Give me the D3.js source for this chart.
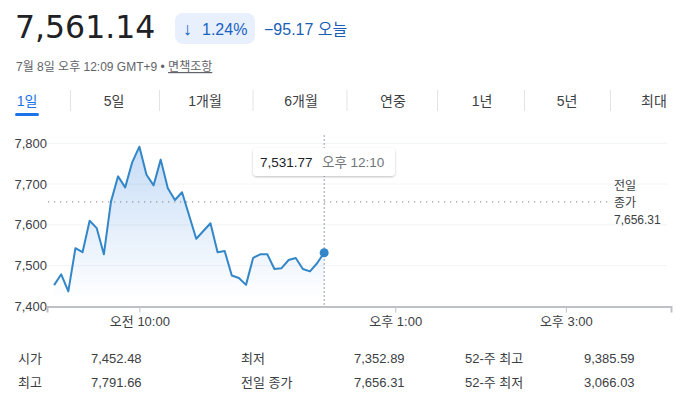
<!DOCTYPE html>
<html>
<head>
<meta charset="utf-8">
<script src="https://cdn.jsdelivr.net/npm/d3@7"></script>
<style>
  body { margin: 0; background: #fff; }
  svg text { font-family: "Liberation Sans", "Noto Sans CJK KR", sans-serif; }
</style>
</head>
<body>
<div id="chart"></div>
<script>
// minutes since midnight, 5 min bars (straight runs left out)
var times = [540, 545, 550, 555, 560, 565, 570, 575, 580, 585, 590, 595, 600, 605, 610, 615, 620, 625, 630,
  640, 650, 655, 660, 665, 670, 675, 680, 685, 690, 695, 700, 705, 710, 715, 720, 725, 730];
var prices = [7452.48, 7479, 7437, 7543, 7533, 7610, 7592, 7528, 7657, 7719, 7692, 7754, 7791.66, 7723, 7697, 7760, 7690, 7661, 7680,
  7566, 7604, 7533, 7536, 7476, 7470, 7453, 7519, 7528, 7528, 7492, 7494, 7514, 7519, 7492, 7486, 7506, 7531.77];
var yTicks = [7400, 7500, 7600, 7700, 7800];
var xTicks = [600, 780, 900];
var xTickLabels = ["오전 10:00", "오후 1:00", "오후 3:00"];
var prevClose = 7656.31;
var tabs = ["1일", "5일", "1개월", "6개월", "연중", "1년", "5년", "최대"];
var statLabels = [["시가", "최고"], ["최저", "전일 종가"], ["52-주 최고", "52-주 최저"]];
var statValues = [["7,452.48", "7,791.66"], ["7,352.89", "7,656.31"], ["9,385.59", "3,066.03"]];

var width = 684, height = 417;
var blue = "#3386c8";

var svg = d3.select("#chart").append("svg")
  .attr("width", width)
  .attr("height", height);

var defs = svg.append("defs");
var grad = defs.append("linearGradient")
  .attr("id", "areaFill")
  .attr("gradientUnits", "userSpaceOnUse")
  .attr("x1", 0).attr("x2", 0).attr("y1", 143).attr("y2", 300);
grad.append("stop").attr("offset", "0%").attr("stop-color", "#4a90e2").attr("stop-opacity", 0.32);
grad.append("stop").attr("offset", "100%").attr("stop-color", "#4a90e2").attr("stop-opacity", 0);

var shadow = defs.append("filter").attr("id", "shadow")
  .attr("x", "-20%").attr("y", "-40%").attr("width", "140%").attr("height", "180%");
shadow.append("feDropShadow")
  .attr("dx", 0).attr("dy", 1).attr("stdDeviation", 1.2)
  .attr("flood-color", "#000").attr("flood-opacity", 0.25);

// header
svg.append("text")
  .attr("x", 15).attr("y", 38)
  .style("font-family", "'DejaVu Sans', sans-serif")
  .style("font-size", "31.5px")
  .attr("fill", "#202124")
  .text("7,561.14");

svg.append("rect")
  .attr("x", 175).attr("y", 13).attr("width", 80).attr("height", 31).attr("rx", 8)
  .attr("fill", "#e8f0fe");
svg.append("text")
  .attr("x", 183).attr("y", 35)
  .style("font-size", "18px")
  .attr("fill", "#1a62c2")
  .text("↓");
svg.append("text")
  .attr("x", 202).attr("y", 35)
  .style("font-size", "16px")
  .attr("fill", "#1a62c2")
  .text("1.24%");
svg.append("text")
  .attr("x", 264).attr("y", 35)
  .style("font-size", "16px")
  .attr("fill", "#1a5fb4")
  .text("−95.17 오늘");

var sub = svg.append("text")
  .attr("x", 16).attr("y", 71)
  .style("font-size", "12px")
  .attr("fill", "#5f6368");
sub.append("tspan").text("7월 8일 오후 12:09 GMT+9 • ");
sub.append("tspan").attr("text-decoration", "underline").text("면책조항");

// range tabs
var tabX = [27, 114, 205, 301, 393, 482, 567, 654];
svg.selectAll(".tab")
  .data(tabs)
  .enter()
  .append("text")
  .attr("class", "tab")
  .attr("x", function(d, i) { return tabX[i] })
  .attr("y", 106)
  .attr("text-anchor", "middle")
  .style("font-size", "14px")
  .attr("fill", function(d, i) { return i == 0 ? "#1a73e8" : "#3c4043" })
  .text(function(d) { return d });

svg.selectAll(".sep")
  .data(tabX.slice(1))
  .enter()
  .append("line")
  .attr("x1", function(d, i) { return (tabX[i] + d) / 2 })
  .attr("x2", function(d, i) { return (tabX[i] + d) / 2 })
  .attr("y1", 90).attr("y2", 111)
  .attr("stroke", "#e3e3e3");

svg.append("rect")
  .attr("x", 15).attr("y", 113).attr("width", 24).attr("height", 3).attr("rx", 1.5)
  .attr("fill", "#1a73e8");

// scales
var x = d3.scaleLinear().domain([535, 974]).range([47, 671]);
var y = d3.scaleLinear().domain([7400, 7800]).range([306.5, 143.3]);

// grid
svg.append("g")
  .selectAll("line")
  .data(yTicks.slice(1))
  .enter()
  .append("line")
  .attr("x1", 47).attr("x2", 667)
  .attr("y1", function(d) { return y(d) })
  .attr("y2", function(d) { return y(d) })
  .attr("stroke", "#f1f3f4");

// y labels
svg.append("g")
  .selectAll("text")
  .data(yTicks)
  .enter()
  .append("text")
  .attr("x", 47)
  .attr("y", function(d) { return y(d) + 4.5 })
  .attr("text-anchor", "end")
  .style("font-size", "13px")
  .attr("fill", "#3c4043")
  .text(d3.format(","));

// previous close
svg.append("line")
  .attr("x1", 48).attr("x2", 608)
  .attr("y1", y(prevClose)).attr("y2", y(prevClose))
  .attr("stroke", "#9aa0a6")
  .attr("stroke-width", 1.3)
  .attr("stroke-dasharray", "1.3,4.7");

var pc = svg.append("text")
  .attr("x", 614)
  .style("font-size", "12px")
  .attr("fill", "#3c4043");
pc.append("tspan").attr("x", 614).attr("y", 190).text("전일");
pc.append("tspan").attr("x", 614).attr("y", 207).text("종가");
pc.append("tspan").attr("x", 614).attr("y", 224).text(d3.format(",.2f")(prevClose));

// area + line
var pts = times.map(function(t, i) { return [t, prices[i]] });

svg.append("path")
  .datum(pts)
  .attr("fill", "url(#areaFill)")
  .attr("d", d3.area()
    .x(function(d) { return x(d[0]) })
    .y0(y(7400))
    .y1(function(d) { return y(d[1]) }));

svg.append("path")
  .datum(pts)
  .attr("fill", "none")
  .attr("stroke", blue)
  .attr("stroke-width", 2)
  .attr("stroke-linejoin", "round")
  .attr("d", d3.line()
    .x(function(d) { return x(d[0]) })
    .y(function(d) { return y(d[1]) }));

// x axis
var xAxis = svg.append("g")
  .attr("transform", "translate(0," + y(7400) + ")")
  .call(d3.axisBottom(x)
    .tickValues(xTicks)
    .tickSize(6)
    .tickFormat(function(d, i) { return xTickLabels[i] }));
xAxis.select(".domain").attr("stroke", "#bdc1c6").attr("stroke-width", 2);
xAxis.selectAll(".tick line").attr("stroke", "#bdc1c6");
xAxis.selectAll(".tick text")
  .attr("y", 10)
  .style("font-size", "13px")
  .style("font-family", "'Liberation Sans', 'Noto Sans CJK KR', sans-serif")
  .attr("fill", "#3c4043");

// hover line, dot, tooltip
var last = pts[pts.length - 1];
svg.append("line")
  .attr("x1", x(last[0])).attr("x2", x(last[0]))
  .attr("y1", 135).attr("y2", y(7400) - 1)
  .attr("stroke", "#9aa0a6")
  .attr("stroke-dasharray", "2,2");

svg.append("circle")
  .attr("cx", x(last[0])).attr("cy", y(last[1]))
  .attr("r", 4.5)
  .attr("fill", blue);

svg.append("rect")
  .attr("x", 253).attr("y", 148).attr("width", 142).attr("height", 28).attr("rx", 4)
  .attr("fill", "#fff")
  .attr("filter", "url(#shadow)");
svg.append("text")
  .attr("x", 260).attr("y", 167)
  .style("font-size", "13.5px")
  .attr("fill", "#202124")
  .text(d3.format(",.2f")(last[1]));
svg.append("text")
  .attr("x", 322).attr("y", 167)
  .style("font-size", "13.5px")
  .attr("fill", "#70757a")
  .text("오후 12:10");

// stats table
var colX = [[18, 91], [241, 354], [465, 584]];
var rowY = [363, 387];
statLabels.forEach(function(col, c) {
  col.forEach(function(lab, r) {
    svg.append("text")
      .attr("x", colX[c][0]).attr("y", rowY[r])
      .style("font-size", "13px")
      .attr("fill", "#3c4043")
      .text(lab);
    svg.append("text")
      .attr("x", colX[c][1]).attr("y", rowY[r])
      .style("font-size", "13px")
      .attr("fill", "#3c4043")
      .text(statValues[c][r]);
  });
});
</script>
</body>
</html>
